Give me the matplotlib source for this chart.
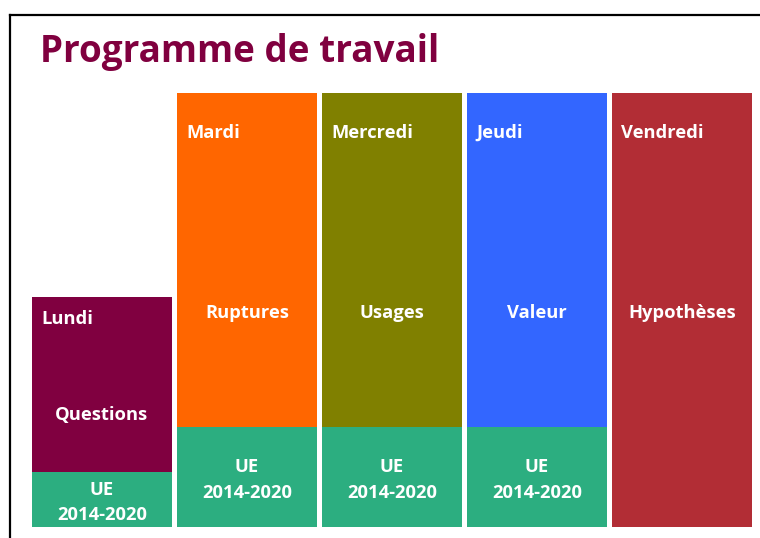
import matplotlib.pyplot as plt
from matplotlib.lines import Line2D

plt.rcParams['font.family'] = ['Open Sans', 'DejaVu Sans']

# data
days = ["Lundi", "Mardi", "Mercredi", "Jeudi", "Vendredi"]
themes = ["Questions", "Ruptures", "Usages", "Valeur", "Hypothèses"]
total = [230, 434, 434, 434, 434]
ue_part = [55, 100, 100, 100, 0]
ue_label = "UE\n2014-2020"
day_colors = ["#800040", "#FF6600", "#808000", "#3366FF", "#B22D35"]
ue_color = "#2CAE80"

W, H = 760, 538
fig = plt.figure(figsize=(W / 100, H / 100), dpi=100)
fig.patch.set_facecolor("white")

# slide frame (top and left edges visible)
fig.add_artist(Line2D([10 / W, 1], [1 - 15 / H, 1 - 15 / H], color="black", lw=1.6))
fig.add_artist(Line2D([10 / W, 10 / W], [0, 1 - 15 / H], color="black", lw=1.6))

fig.text(40 / W, 1 - 52 / H, "Programme de travail", color="#80003F",
         fontsize=26.6, fontweight="bold", va="center", ha="left")

ax = fig.add_axes([29.5 / W, 1 - 527 / H, 725 / W, 434 / H])
ax.set_xlim(-0.5, 4.5)
ax.set_ylim(0, 434)
ax.axis("off")

x = list(range(len(days)))
width = 140 / 145
top_part = [t - u for t, u in zip(total, ue_part)]
ax.bar(x, ue_part, width=width, color=ue_color)
ax.bar(x, top_part, width=width, bottom=ue_part, color=day_colors)

fs = 13.2
for i in x:
    left = i - width / 2
    ax.text(left + 0.062, total[i] * 0.91 - 1, days[i], color="white",
            fontsize=fs, fontweight="bold", ha="left", va="center")
    ax.text(i, total[i] / 2 - 3, themes[i], color="white",
            fontsize=fs, fontweight="bold", ha="center", va="center")
    if ue_part[i] > 0:
        ax.text(i, ue_part[i] / 2 - 3, ue_label, color="white", fontsize=fs,
                fontweight="bold", ha="center", va="center", linespacing=1.5)

fig.savefig("out.png", dpi=100)
